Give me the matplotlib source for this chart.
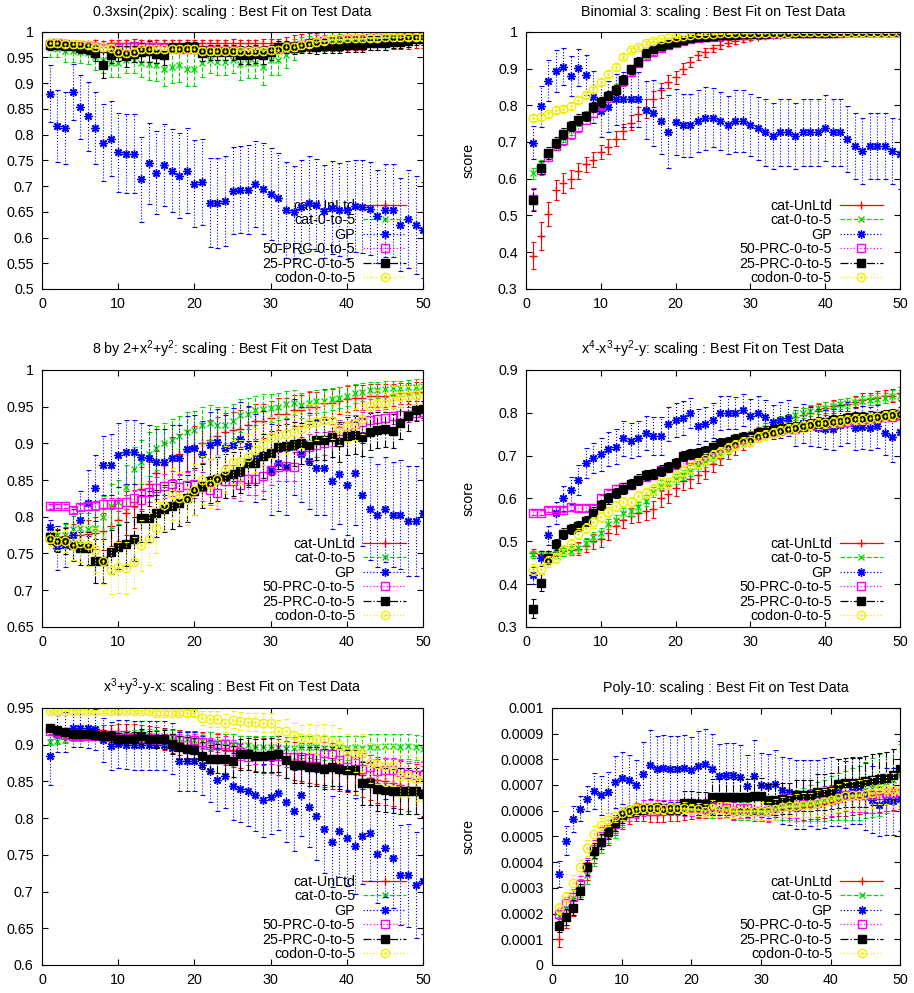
import numpy as np
import matplotlib
matplotlib.use("Agg")
import matplotlib.pyplot as plt
from matplotlib.lines import Line2D
from matplotlib.ticker import FuncFormatter

plt.rcParams['font.family'] = ['Liberation Sans', 'DejaVu Sans']
plt.rcParams['mathtext.default'] = 'regular'

x = np.arange(1, 51)

labels = ['cat-UnLtd', 'cat-0-to-5', 'GP', '50-PRC-0-to-5', '25-PRC-0-to-5', 'codon-0-to-5']

# ---- 0.3xsin(2pix)
p1_unltd = [0.978,0.979,0.978,0.977,0.977,0.976,0.978,0.977,0.978,0.978, 0.978,0.979,0.978,0.978,0.978,0.978,0.978,0.978,0.978,0.978,
            0.978,0.978,0.978,0.978,0.979,0.978,0.978,0.978,0.979,0.979, 0.978,0.979,0.978,0.979,0.980,0.980,0.981,0.981,0.981,0.982,
            0.982,0.982,0.983,0.983,0.983,0.984,0.984,0.984,0.985,0.985]
p1_unltd_err = [0.007,0.007,0.006,0.007,0.006,0.007,0.006,0.006,0.006,0.006, 0.006,0.006,0.006,0.006,0.006,0.006,0.006,0.006,0.006,0.006,
                0.006,0.006,0.006,0.006,0.006,0.006,0.006,0.006,0.006,0.006, 0.008,0.010,0.016,0.017,0.017,0.017,0.018,0.018,0.018,0.018,
                0.018,0.018,0.018,0.018,0.018,0.017,0.017,0.017,0.016,0.016]
p1_cat05 = [0.968,0.967,0.962,0.962,0.960,0.958,0.950,0.945,0.940,0.940, 0.945,0.945,0.940,0.937,0.935,0.928,0.932,0.935,0.927,0.928,
            0.940,0.945,0.942,0.942,0.945,0.937,0.940,0.940,0.932,0.945, 0.945,0.955,0.965,0.975,0.980,0.982,0.983,0.984,0.985,0.986,
            0.986,0.987,0.987,0.988,0.988,0.988,0.989,0.989,0.990,0.990]
p1_cat05_err = [0.018,0.017,0.020,0.020,0.020,0.020,0.025,0.025,0.028,0.028, 0.025,0.025,0.028,0.030,0.030,0.033,0.032,0.032,0.033,0.033,
                0.028,0.025,0.027,0.027,0.025,0.030,0.030,0.030,0.035,0.030, 0.030,0.025,0.020,0.015,0.012,0.011,0.010,0.010,0.010,0.010,
                0.009,0.009,0.009,0.008,0.008,0.008,0.008,0.008,0.007,0.007]
p1_gp = [0.880,0.817,0.813,0.883,0.853,0.836,0.812,0.784,0.792,0.766, 0.763,0.763,0.713,0.744,0.726,0.741,0.730,0.720,0.730,0.705,
         0.708,0.668,0.667,0.671,0.691,0.693,0.693,0.704,0.695,0.685, 0.676,0.654,0.649,0.660,0.668,0.663,0.651,0.658,0.654,0.653,
         0.661,0.660,0.656,0.641,0.653,0.653,0.625,0.636,0.625,0.615]
p1_gp_err = [0.055,0.070,0.070,0.055,0.062,0.067,0.070,0.075,0.073,0.077, 0.077,0.077,0.083,0.079,0.081,0.080,0.081,0.083,0.082,0.084,
             0.084,0.087,0.087,0.087,0.085,0.085,0.086,0.084,0.088,0.089, 0.088,0.093,0.090,0.090,0.090,0.090,0.090,0.090,0.090,0.095,
             0.090,0.090,0.090,0.090,0.090,0.090,0.090,0.095,0.095,0.093]
p1_prc50 = [0.977,0.978,0.976,0.975,0.974,0.973,0.971,0.969,0.970,0.970, 0.971,0.972,0.971,0.970,0.970,0.968,0.968,0.967,0.966,0.966,
            0.964,0.964,0.963,0.963,0.963,0.962,0.962,0.963,0.963,0.964, 0.966,0.970,0.972,0.975,0.978,0.980,0.982,0.983,0.984,0.985,
            0.986,0.986,0.987,0.987,0.988,0.988,0.989,0.989,0.990,0.990]
p1_prc50_err = [0.006,0.006,0.006,0.006,0.006,0.006,0.007,0.007,0.007,0.007, 0.007,0.007,0.007,0.007,0.007,0.007,0.007,0.007,0.007,0.007,
                0.007,0.007,0.007,0.007,0.007,0.007,0.007,0.007,0.007,0.007, 0.007,0.007,0.007,0.007,0.006,0.006,0.006,0.006,0.006,0.006,
                0.006,0.006,0.006,0.006,0.006,0.006,0.005,0.005,0.005,0.005]
p1_prc25 = [0.975,0.975,0.973,0.972,0.968,0.966,0.958,0.936,0.955,0.958, 0.952,0.957,0.960,0.962,0.957,0.955,0.968,0.968,0.970,0.970,
            0.958,0.960,0.960,0.960,0.960,0.955,0.955,0.957,0.955,0.960, 0.970,0.970,0.968,0.970,0.972,0.970,0.972,0.973,0.973,0.975,
            0.975,0.975,0.978,0.978,0.978,0.980,0.980,0.982,0.985,0.985]
p1_prc25_err = [0.010,0.008,0.008,0.008,0.010,0.010,0.015,0.025,0.015,0.015, 0.020,0.015,0.018,0.020,0.018,0.020,0.010,0.010,0.010,0.010,
                0.015,0.015,0.015,0.015,0.015,0.017,0.017,0.017,0.018,0.015, 0.012,0.012,0.012,0.012,0.013,0.014,0.014,0.014,0.014,0.014,
                0.014,0.014,0.013,0.013,0.013,0.012,0.012,0.012,0.010,0.010]
p1_codon = [0.978,0.978,0.977,0.976,0.976,0.975,0.970,0.970,0.968,0.960, 0.958,0.960,0.966,0.967,0.967,0.967,0.967,0.967,0.967,0.967,
            0.963,0.963,0.963,0.963,0.963,0.963,0.963,0.963,0.963,0.964, 0.965,0.970,0.970,0.975,0.977,0.980,0.983,0.985,0.986,0.987,
            0.987,0.988,0.988,0.988,0.989,0.989,0.989,0.990,0.990,0.990]
p1_codon_err = [0.007,0.007,0.007,0.007,0.007,0.007,0.008,0.008,0.008,0.008, 0.008,0.008,0.008,0.008,0.008,0.008,0.008,0.008,0.008,0.008,
                0.008,0.008,0.008,0.008,0.008,0.008,0.008,0.008,0.008,0.008, 0.008,0.008,0.008,0.008,0.007,0.007,0.007,0.007,0.007,0.007,
                0.007,0.007,0.006,0.006,0.006,0.006,0.006,0.006,0.006,0.006]

# ---- Binomial 3
p2_unltd = [0.391,0.445,0.505,0.569,0.589,0.600,0.621,0.639,0.652,0.673, 0.687,0.709,0.729,0.753,0.776,0.791,0.816,0.841,0.864,0.876,
            0.900,0.918,0.936,0.944,0.955,0.964,0.970,0.976,0.980,0.984, 0.986,0.988,0.990,0.992,0.993,0.994,0.995,0.995,0.996,0.996,
            0.997,0.997,0.998,0.998,0.998,0.998,0.999,0.999,0.999,0.999]
p2_unltd_err = [0.038,0.038,0.033,0.027,0.027,0.025,0.022,0.020,0.020,0.020, 0.020,0.020,0.020,0.020,0.020,0.025,0.022,0.020,0.018,0.018,
                0.015,0.013,0.012,0.012,0.010,0.010,0.008,0.008,0.007,0.006, 0.006,0.005,0.005,0.004,0.004,0.004,0.003,0.003,0.003,0.003,
                0.003,0.002,0.002,0.002,0.002,0.002,0.002,0.002,0.001,0.001]
p2_cat05 = [0.615,0.640,0.665,0.690,0.712,0.732,0.755,0.772,0.795,0.810, 0.826,0.845,0.868,0.893,0.918,0.936,0.950,0.960,0.968,0.974,
            0.978,0.982,0.985,0.987,0.989,0.990,0.992,0.993,0.994,0.995, 0.996,0.996,0.997,0.997,0.997,0.998,0.998,0.998,0.998,0.998,
            0.999,0.999,0.999,0.999,0.999,0.999,0.999,0.999,0.999,0.999]
p2_cat05_err = [0.015,0.012,0.012,0.012,0.012,0.012,0.012,0.012,0.012,0.012, 0.012,0.012,0.012,0.012,0.010,0.010,0.008,0.007,0.006,0.005,
                0.005,0.004,0.004,0.003,0.003,0.003,0.003,0.002,0.002,0.002, 0.002,0.002,0.002,0.002,0.001,0.001,0.001,0.001,0.001,0.001,
                0.001,0.001,0.001,0.001,0.001,0.001,0.001,0.001,0.001,0.001]
p2_gp = [0.698,0.797,0.867,0.893,0.905,0.879,0.902,0.882,0.823,0.784, 0.796,0.816,0.816,0.816,0.816,0.787,0.778,0.757,0.728,0.755,
         0.745,0.745,0.757,0.764,0.766,0.757,0.746,0.757,0.757,0.746, 0.737,0.726,0.716,0.726,0.726,0.716,0.726,0.726,0.726,0.737,
         0.726,0.726,0.707,0.689,0.676,0.689,0.689,0.689,0.676,0.667]
p2_gp_err = [0.045,0.055,0.055,0.058,0.050,0.055,0.050,0.055,0.070,0.070, 0.070,0.070,0.075,0.075,0.075,0.080,0.090,0.090,0.100,0.090,
             0.085,0.085,0.085,0.085,0.080,0.080,0.080,0.085,0.085,0.085, 0.085,0.090,0.090,0.090,0.090,0.090,0.090,0.090,0.090,0.090,
             0.090,0.090,0.090,0.090,0.090,0.090,0.090,0.090,0.090,0.095]
p2_prc50 = [0.545,0.625,0.660,0.690,0.705,0.722,0.740,0.760,0.780,0.800, 0.820,0.842,0.865,0.890,0.915,0.933,0.945,0.955,0.964,0.970,
            0.975,0.979,0.982,0.985,0.987,0.989,0.990,0.991,0.992,0.993, 0.994,0.995,0.995,0.996,0.996,0.997,0.997,0.997,0.998,0.998,
            0.998,0.998,0.999,0.999,0.999,0.999,0.999,0.999,0.999,0.999]
p2_prc50_err = [0.030,0.015,0.013,0.013,0.013,0.013,0.012,0.012,0.012,0.012, 0.012,0.012,0.012,0.010,0.010,0.010,0.008,0.007,0.006,0.005,
                0.005,0.004,0.004,0.004,0.003,0.003,0.003,0.003,0.002,0.002, 0.002,0.002,0.002,0.002,0.001,0.001,0.001,0.001,0.001,0.001,
                0.001,0.001,0.001,0.001,0.001,0.001,0.001,0.001,0.001,0.001]
p2_prc25 = [0.541,0.630,0.670,0.698,0.723,0.744,0.761,0.770,0.796,0.809, 0.826,0.841,0.870,0.898,0.918,0.941,0.952,0.961,0.968,0.973,
            0.977,0.982,0.985,0.986,0.988,0.990,0.991,0.992,0.993,0.994, 0.995,0.995,0.996,0.996,0.997,0.997,0.997,0.998,0.998,0.998,
            0.998,0.999,0.999,0.999,0.999,0.999,0.999,0.999,0.999,0.999]
p2_prc25_err = [0.030,0.018,0.016,0.015,0.015,0.014,0.014,0.013,0.013,0.013, 0.013,0.013,0.012,0.012,0.012,0.010,0.008,0.007,0.006,0.005,
                0.005,0.004,0.004,0.004,0.003,0.003,0.003,0.003,0.002,0.002, 0.002,0.002,0.002,0.002,0.001,0.001,0.001,0.001,0.001,0.001,
                0.001,0.001,0.001,0.001,0.001,0.001,0.001,0.001,0.001,0.001]
p2_codon = [0.765,0.768,0.775,0.787,0.791,0.797,0.814,0.827,0.843,0.864, 0.885,0.905,0.932,0.950,0.959,0.970,0.975,0.979,0.982,0.986,
            0.989,0.991,0.993,0.994,0.995,0.996,0.996,0.997,0.997,0.997, 0.998,0.998,0.998,0.998,0.998,0.999,0.999,0.999,0.999,0.999,
            0.999,0.999,0.999,0.999,0.999,0.999,0.999,0.999,0.999,0.999]
p2_codon_err = [0.008,0.008,0.008,0.008,0.008,0.008,0.008,0.008,0.008,0.008, 0.008,0.008,0.007,0.006,0.005,0.005,0.004,0.004,0.003,0.003,
                0.003,0.002,0.002,0.002,0.002,0.002,0.001,0.001,0.001,0.001, 0.001,0.001,0.001,0.001,0.001,0.001,0.001,0.001,0.001,0.001,
                0.001,0.001,0.001,0.001,0.001,0.001,0.001,0.001,0.001,0.001]

# ---- 8 by 2+x^2+y^2
p3_unltd = [0.772,0.773,0.774,0.775,0.775,0.776,0.778,0.780,0.787,0.795, 0.805,0.815,0.838,0.845,0.860,0.870,0.880,0.885,0.890,0.895,
            0.900,0.905,0.910,0.915,0.918,0.920,0.925,0.930,0.930,0.935, 0.940,0.940,0.945,0.945,0.950,0.950,0.955,0.955,0.958,0.960,
            0.962,0.962,0.965,0.965,0.965,0.966,0.968,0.968,0.970,0.970]
p3_unltd_err = [0.008,0.010,0.012,0.015,0.018,0.020,0.022,0.025,0.027,0.028, 0.030,0.030,0.030,0.030,0.030,0.030,0.028,0.028,0.028,0.028,
                0.027,0.027,0.026,0.026,0.025,0.025,0.024,0.024,0.023,0.023, 0.022,0.022,0.021,0.021,0.020,0.020,0.019,0.019,0.018,0.018,
                0.017,0.017,0.016,0.016,0.015,0.015,0.014,0.014,0.013,0.013]
p3_cat05 = [0.775,0.775,0.775,0.783,0.785,0.783,0.785,0.800,0.815,0.820, 0.840,0.865,0.875,0.885,0.893,0.900,0.905,0.910,0.915,0.918,
            0.925,0.928,0.925,0.925,0.930,0.938,0.940,0.945,0.947,0.948, 0.950,0.953,0.955,0.952,0.955,0.957,0.958,0.960,0.962,0.965,
            0.968,0.970,0.972,0.973,0.974,0.975,0.975,0.976,0.977,0.978]
p3_cat05_err = [0.010,0.012,0.015,0.018,0.020,0.022,0.025,0.028,0.030,0.030, 0.030,0.030,0.030,0.030,0.030,0.028,0.028,0.027,0.027,0.026,
                0.025,0.024,0.024,0.024,0.023,0.022,0.021,0.020,0.020,0.019, 0.018,0.018,0.017,0.017,0.016,0.016,0.015,0.015,0.014,0.014,
                0.013,0.012,0.012,0.011,0.011,0.010,0.010,0.010,0.010,0.010]
p3_gp = [0.786,0.758,0.761,0.775,0.795,0.819,0.839,0.870,0.871,0.884, 0.888,0.888,0.882,0.880,0.875,0.875,0.880,0.880,0.892,0.893,
         0.885,0.898,0.902,0.893,0.898,0.906,0.896,0.880,0.884,0.864, 0.873,0.868,0.895,0.885,0.876,0.867,0.867,0.848,0.858,0.843,
         0.859,0.830,0.811,0.802,0.810,0.803,0.803,0.794,0.794,0.805]
p3_gp_err = [0.010,0.030,0.030,0.035,0.040,0.045,0.045,0.040,0.042,0.043, 0.044,0.044,0.045,0.045,0.045,0.045,0.045,0.045,0.045,0.045,
             0.045,0.045,0.045,0.045,0.050,0.050,0.055,0.060,0.060,0.062, 0.065,0.065,0.065,0.065,0.065,0.065,0.065,0.065,0.068,0.068,
             0.070,0.070,0.070,0.070,0.072,0.072,0.074,0.075,0.075,0.075]
p3_prc50 = [0.814,0.815,0.815,0.809,0.813,0.814,0.815,0.818,0.818,0.817, 0.820,0.825,0.823,0.834,0.839,0.842,0.845,0.840,0.843,0.845,
            0.841,0.836,0.833,0.848,0.848,0.843,0.851,0.852,0.856,0.864, 0.868,0.869,0.868,0.890,0.895,0.898,0.900,0.911,0.917,0.924,
            0.926,0.929,0.931,0.933,0.935,0.937,0.939,0.939,0.941,0.942]
p3_prc50_err = [0.003,0.003,0.003,0.004,0.004,0.005,0.006,0.007,0.008,0.009, 0.010,0.012,0.013,0.014,0.015,0.016,0.017,0.018,0.018,0.019,
                0.020,0.020,0.022,0.022,0.022,0.022,0.022,0.022,0.021,0.021, 0.020,0.020,0.020,0.018,0.018,0.017,0.016,0.015,0.014,0.014,
                0.013,0.013,0.012,0.012,0.011,0.011,0.010,0.010,0.010,0.010]
p3_prc25 = [0.773,0.767,0.767,0.761,0.757,0.757,0.740,0.740,0.752,0.759, 0.763,0.770,0.798,0.798,0.805,0.811,0.815,0.819,0.825,0.835,
            0.842,0.849,0.851,0.856,0.858,0.862,0.873,0.873,0.883,0.887, 0.895,0.896,0.899,0.900,0.898,0.905,0.905,0.908,0.902,0.910,
            0.911,0.908,0.916,0.918,0.919,0.917,0.928,0.937,0.945,0.946]
p3_prc25_err = [0.010,0.015,0.018,0.020,0.022,0.022,0.030,0.030,0.030,0.030, 0.030,0.030,0.032,0.032,0.032,0.032,0.032,0.032,0.032,0.032,
                0.030,0.030,0.030,0.030,0.030,0.030,0.030,0.030,0.030,0.030, 0.030,0.030,0.030,0.028,0.028,0.028,0.028,0.027,0.027,0.026,
                0.026,0.025,0.025,0.025,0.024,0.023,0.022,0.020,0.015,0.012]
p3_codon = [0.770,0.767,0.767,0.761,0.764,0.761,0.755,0.740,0.727,0.731, 0.730,0.738,0.761,0.770,0.785,0.816,0.831,0.826,0.824,0.837,
            0.850,0.845,0.852,0.864,0.874,0.875,0.882,0.891,0.899,0.908, 0.911,0.912,0.916,0.920,0.928,0.929,0.932,0.930,0.920,0.924,
            0.926,0.933,0.951,0.954,0.954,0.963,0.964,0.965,0.966,0.967]
p3_codon_err = [0.010,0.012,0.015,0.020,0.025,0.028,0.030,0.032,0.032,0.035, 0.035,0.035,0.035,0.035,0.035,0.035,0.035,0.035,0.035,0.035,
                0.033,0.033,0.032,0.032,0.030,0.030,0.030,0.030,0.028,0.028, 0.027,0.027,0.026,0.026,0.025,0.025,0.024,0.024,0.023,0.022,
                0.022,0.020,0.018,0.018,0.016,0.015,0.014,0.013,0.012,0.012]

# ---- x^4-x^3+y^2-y
p4_unltd = [0.473,0.470,0.470,0.475,0.478,0.480,0.483,0.490,0.500,0.505, 0.520,0.535,0.550,0.560,0.565,0.570,0.575,0.600,0.610,0.625,
            0.640,0.645,0.655,0.665,0.680,0.695,0.710,0.720,0.730,0.740, 0.750,0.760,0.765,0.770,0.780,0.790,0.795,0.800,0.805,0.810,
            0.815,0.818,0.820,0.825,0.830,0.832,0.835,0.838,0.840,0.845]
p4_unltd_err = [0.008,0.008,0.008,0.010,0.012,0.013,0.015,0.016,0.017,0.018, 0.018,0.018,0.018,0.018,0.020,0.020,0.020,0.020,0.020,0.020,
                0.020,0.020,0.020,0.020,0.018,0.018,0.018,0.018,0.017,0.017, 0.017,0.017,0.016,0.016,0.016,0.016,0.015,0.015,0.015,0.015,
                0.015,0.015,0.015,0.015,0.015,0.015,0.015,0.015,0.015,0.015]
p4_cat05 = [0.470,0.470,0.470,0.472,0.475,0.478,0.485,0.495,0.510,0.520, 0.540,0.550,0.565,0.570,0.580,0.595,0.615,0.630,0.635,0.645,
            0.655,0.665,0.675,0.685,0.695,0.705,0.715,0.725,0.735,0.745, 0.755,0.765,0.772,0.780,0.785,0.795,0.800,0.805,0.810,0.812,
            0.815,0.820,0.822,0.825,0.828,0.830,0.833,0.835,0.840,0.840]
p4_cat05_err = [0.008,0.008,0.008,0.010,0.010,0.011,0.012,0.012,0.012,0.012, 0.012,0.012,0.012,0.012,0.012,0.012,0.012,0.012,0.012,0.012,
                0.012,0.012,0.012,0.012,0.012,0.012,0.012,0.012,0.012,0.012, 0.012,0.012,0.012,0.012,0.012,0.012,0.012,0.012,0.012,0.012,
                0.012,0.012,0.012,0.012,0.012,0.012,0.012,0.012,0.012,0.012]
p4_gp = [0.421,0.460,0.514,0.566,0.600,0.619,0.643,0.683,0.695,0.703, 0.715,0.721,0.740,0.735,0.740,0.753,0.746,0.746,0.773,0.783,
         0.787,0.799,0.768,0.773,0.782,0.799,0.800,0.799,0.806,0.793, 0.799,0.789,0.779,0.783,0.787,0.768,0.775,0.768,0.764,0.761,
         0.761,0.771,0.777,0.764,0.766,0.764,0.768,0.752,0.744,0.756]
p4_gp_err = [0.020,0.018,0.022,0.025,0.030,0.032,0.035,0.035,0.035,0.038, 0.040,0.040,0.040,0.040,0.040,0.040,0.045,0.045,0.040,0.040,
             0.040,0.035,0.040,0.040,0.040,0.040,0.038,0.038,0.038,0.040, 0.040,0.040,0.040,0.042,0.042,0.045,0.045,0.045,0.045,0.045,
             0.048,0.048,0.048,0.050,0.050,0.050,0.050,0.050,0.058,0.058]
p4_prc50 = [0.567,0.567,0.574,0.574,0.574,0.579,0.577,0.577,0.577,0.600, 0.612,0.623,0.627,0.631,0.643,0.651,0.654,0.666,0.672,0.678,
            0.683,0.690,0.693,0.701,0.711,0.717,0.725,0.732,0.738,0.743, 0.748,0.752,0.756,0.760,0.763,0.763,0.766,0.769,0.771,0.774,
            0.775,0.777,0.779,0.782,0.783,0.785,0.787,0.789,0.791,0.792]
p4_prc50_err = [0.005,0.005,0.006,0.006,0.006,0.006,0.007,0.007,0.007,0.008, 0.008,0.008,0.008,0.008,0.008,0.008,0.008,0.008,0.008,0.008,
                0.008,0.008,0.008,0.008,0.008,0.008,0.008,0.008,0.008,0.008, 0.008,0.008,0.008,0.008,0.008,0.008,0.008,0.008,0.008,0.008,
                0.008,0.008,0.008,0.008,0.008,0.008,0.008,0.008,0.008,0.008]
p4_prc25 = [0.343,0.403,0.462,0.493,0.518,0.528,0.535,0.548,0.567,0.584, 0.600,0.612,0.623,0.633,0.644,0.654,0.657,0.665,0.674,0.682,
            0.699,0.703,0.705,0.711,0.721,0.730,0.731,0.738,0.744,0.744, 0.752,0.756,0.760,0.761,0.764,0.766,0.769,0.774,0.777,0.779,
            0.782,0.783,0.787,0.789,0.789,0.791,0.792,0.794,0.796,0.797]
p4_prc25_err = [0.022,0.020,0.015,0.013,0.012,0.012,0.012,0.012,0.012,0.012, 0.012,0.012,0.012,0.012,0.012,0.012,0.012,0.012,0.012,0.012,
                0.012,0.012,0.012,0.012,0.012,0.012,0.012,0.012,0.012,0.012, 0.012,0.012,0.012,0.012,0.012,0.012,0.012,0.012,0.012,0.012,
                0.012,0.012,0.012,0.012,0.012,0.012,0.012,0.012,0.012,0.012]
p4_codon = [0.434,0.436,0.453,0.461,0.479,0.493,0.518,0.531,0.544,0.556, 0.569,0.583,0.592,0.592,0.606,0.612,0.622,0.635,0.635,0.652,
            0.664,0.672,0.682,0.693,0.701,0.709,0.717,0.725,0.732,0.735, 0.743,0.748,0.753,0.758,0.761,0.764,0.768,0.771,0.775,0.777,
            0.778,0.781,0.783,0.785,0.786,0.788,0.791,0.793,0.794,0.796]
p4_codon_err = [0.012,0.012,0.012,0.012,0.012,0.012,0.012,0.012,0.012,0.012, 0.012,0.012,0.012,0.012,0.012,0.012,0.012,0.012,0.012,0.012,
                0.012,0.012,0.012,0.012,0.012,0.012,0.012,0.012,0.012,0.012, 0.012,0.012,0.012,0.012,0.012,0.012,0.012,0.012,0.012,0.012,
                0.012,0.012,0.012,0.012,0.012,0.012,0.012,0.012,0.012,0.012]

# ---- x^3+y^3-y-x
p5_unltd = [0.922,0.920,0.918,0.917,0.916,0.915,0.915,0.920,0.919,0.918, 0.918,0.916,0.915,0.912,0.910,0.908,0.905,0.903,0.900,0.900,
            0.898,0.897,0.895,0.893,0.892,0.890,0.888,0.887,0.885,0.885, 0.883,0.880,0.878,0.876,0.875,0.873,0.870,0.868,0.866,0.865,
            0.862,0.858,0.855,0.852,0.850,0.848,0.845,0.842,0.840,0.837]
p5_unltd_err = [0.004,0.004,0.004,0.004,0.005,0.005,0.005,0.006,0.008,0.010, 0.010,0.012,0.012,0.013,0.014,0.015,0.016,0.017,0.018,0.018,
                0.019,0.020,0.020,0.021,0.022,0.022,0.023,0.023,0.024,0.024, 0.025,0.025,0.026,0.026,0.027,0.027,0.028,0.028,0.029,0.029,
                0.030,0.030,0.031,0.031,0.032,0.032,0.033,0.033,0.034,0.034]
p5_cat05 = [0.904,0.905,0.906,0.909,0.909,0.911,0.912,0.913,0.913,0.913, 0.913,0.913,0.913,0.913,0.912,0.912,0.911,0.909,0.907,0.906,
            0.905,0.905,0.904,0.903,0.901,0.899,0.899,0.897,0.897,0.897, 0.897,0.895,0.895,0.897,0.897,0.897,0.895,0.895,0.896,0.895,
            0.896,0.895,0.897,0.897,0.898,0.898,0.897,0.898,0.896,0.894]
p5_cat05_err = [0.004,0.004,0.004,0.004,0.004,0.004,0.005,0.005,0.005,0.006, 0.006,0.007,0.007,0.008,0.008,0.009,0.009,0.010,0.010,0.011,
                0.011,0.012,0.012,0.012,0.013,0.013,0.013,0.014,0.014,0.014, 0.015,0.015,0.015,0.015,0.015,0.016,0.016,0.016,0.016,0.016,
                0.016,0.017,0.017,0.017,0.017,0.017,0.017,0.017,0.017,0.017]
p5_gp = [0.885,0.915,0.917,0.923,0.923,0.923,0.921,0.906,0.898,0.901, 0.900,0.899,0.899,0.899,0.899,0.899,0.895,0.877,0.877,0.877,
         0.872,0.864,0.852,0.857,0.843,0.840,0.837,0.832,0.824,0.828, 0.834,0.822,0.810,0.831,0.815,0.803,0.785,0.768,0.782,0.773,
         0.762,0.775,0.779,0.751,0.759,0.746,0.723,0.722,0.709,0.714]
p5_gp_err = [0.040,0.025,0.027,0.027,0.027,0.028,0.028,0.030,0.033,0.033, 0.033,0.033,0.033,0.033,0.033,0.033,0.035,0.040,0.040,0.040,
             0.040,0.042,0.043,0.043,0.045,0.045,0.048,0.050,0.050,0.050, 0.050,0.055,0.055,0.055,0.055,0.060,0.060,0.062,0.062,0.065,
             0.065,0.065,0.065,0.067,0.067,0.068,0.068,0.070,0.072,0.072]
p5_prc50 = [0.918,0.916,0.913,0.912,0.912,0.912,0.911,0.911,0.910,0.910, 0.909,0.909,0.909,0.908,0.908,0.907,0.907,0.906,0.905,0.906,
            0.904,0.900,0.900,0.901,0.896,0.890,0.883,0.885,0.884,0.885, 0.885,0.883,0.883,0.883,0.882,0.882,0.888,0.887,0.879,0.880,
            0.878,0.867,0.870,0.864,0.865,0.865,0.862,0.860,0.858,0.858]
p5_prc50_err = [0.004,0.004,0.004,0.004,0.004,0.004,0.005,0.005,0.005,0.005, 0.006,0.006,0.006,0.006,0.007,0.007,0.007,0.008,0.008,0.008,
                0.009,0.009,0.010,0.010,0.010,0.011,0.011,0.012,0.012,0.012, 0.013,0.013,0.013,0.014,0.014,0.014,0.015,0.015,0.015,0.015,
                0.016,0.016,0.016,0.016,0.017,0.017,0.017,0.018,0.018,0.018]
p5_prc25 = [0.922,0.920,0.917,0.915,0.914,0.914,0.913,0.912,0.911,0.908, 0.908,0.907,0.911,0.908,0.907,0.907,0.901,0.896,0.894,0.892,
            0.885,0.881,0.881,0.880,0.877,0.887,0.887,0.885,0.885,0.886, 0.887,0.879,0.872,0.872,0.870,0.870,0.867,0.870,0.867,0.865,
            0.865,0.847,0.847,0.840,0.838,0.837,0.837,0.837,0.837,0.833]
p5_prc25_err = [0.004,0.004,0.004,0.004,0.005,0.005,0.005,0.006,0.007,0.008, 0.009,0.010,0.010,0.011,0.012,0.013,0.014,0.015,0.016,0.017,
                0.018,0.019,0.020,0.020,0.021,0.021,0.022,0.022,0.023,0.023, 0.024,0.024,0.025,0.025,0.026,0.026,0.027,0.027,0.028,0.028,
                0.028,0.029,0.029,0.030,0.030,0.030,0.031,0.031,0.031,0.032]
p5_codon = [0.945,0.945,0.945,0.945,0.945,0.945,0.945,0.945,0.945,0.945, 0.945,0.945,0.945,0.945,0.943,0.943,0.943,0.943,0.943,0.943,
            0.936,0.935,0.935,0.929,0.934,0.932,0.931,0.931,0.930,0.930, 0.919,0.919,0.913,0.909,0.909,0.907,0.907,0.905,0.899,0.890,
            0.888,0.888,0.875,0.873,0.871,0.871,0.857,0.857,0.853,0.853]
p5_codon_err = [0.002,0.002,0.002,0.002,0.002,0.002,0.002,0.002,0.002,0.002, 0.002,0.002,0.002,0.002,0.003,0.003,0.003,0.003,0.004,0.004,
                0.010,0.011,0.011,0.012,0.012,0.012,0.012,0.012,0.013,0.013, 0.015,0.016,0.017,0.018,0.019,0.020,0.021,0.022,0.023,0.024,
                0.025,0.026,0.027,0.027,0.028,0.028,0.029,0.029,0.030,0.030]

# ---- Poly-10 (values in units of 1e-4)
p6_unit = 1e-4
p6_unltd = [1.00,1.85,2.25,2.90,3.65,4.30,4.70,5.00,5.40,5.65, 5.80,5.90,5.88,5.85,5.85,5.87,5.88,5.90,5.95,5.98,
            6.00,6.00,6.00,6.02,6.02,6.03,6.03,6.05,6.05,6.05, 6.07,6.08,6.08,6.10,6.10,6.15,6.20,6.25,6.30,6.35,
            6.40,6.45,6.50,6.55,6.60,6.62,6.65,6.70,6.75,6.80]
p6_unltd_err = [0.30,0.40,0.35,0.35,0.35,0.35,0.35,0.35,0.35,0.35, 0.30,0.30,0.30,0.30,0.30,0.30,0.30,0.30,0.30,0.30,
                0.30,0.30,0.30,0.32,0.32,0.34,0.34,0.36,0.38,0.40, 0.42,0.44,0.46,0.48,0.50,0.52,0.54,0.56,0.58,0.60,
                0.62,0.64,0.66,0.68,0.70,0.70,0.72,0.72,0.74,0.75]
p6_cat05 = [1.90,2.20,2.60,3.00,3.50,4.20,4.70,5.10,5.30,5.70, 5.90,6.00,6.10,6.10,6.10,6.10,6.10,6.10,6.10,6.10,
            6.10,6.00,6.00,6.05,6.05,6.00,6.00,6.00,6.00,6.00, 6.05,6.10,6.15,6.20,6.20,6.25,6.30,6.35,6.40,6.50,
            6.55,6.60,6.65,6.70,6.80,6.90,7.00,7.10,7.20,7.40]
p6_cat05_err = [0.20,0.25,0.30,0.35,0.35,0.35,0.35,0.35,0.35,0.35, 0.30,0.25,0.20,0.20,0.20,0.20,0.20,0.20,0.20,0.20,
                0.25,0.25,0.30,0.30,0.30,0.35,0.35,0.35,0.40,0.40, 0.45,0.45,0.50,0.55,0.60,0.65,0.70,0.75,0.80,0.85,
                0.90,0.95,1.00,1.05,1.10,1.15,1.20,1.20,1.20,1.20]
p6_gp = [3.53,4.84,5.69,6.08,6.47,6.78,6.60,6.71,7.12,7.27, 7.18,6.99,7.44,7.79,7.62,7.66,7.62,7.62,7.66,7.57,
         7.73,7.82,7.64,7.34,7.38,7.38,7.30,6.95,7.34,6.99, 6.95,7.05,6.79,6.73,6.62,6.62,6.69,6.62,6.69,6.75,
         6.71,6.62,6.78,6.79,6.56,6.43,6.23,6.36,6.36,6.45]
p6_gp_err = [0.50,0.55,0.50,0.50,0.50,0.70,0.75,0.80,1.00,1.00, 1.00,1.00,1.25,1.35,1.30,1.30,1.30,1.30,1.30,1.30,
             1.35,1.35,1.35,1.25,1.25,1.25,1.25,1.20,1.40,1.25, 1.25,1.30,1.30,1.30,1.35,1.35,1.30,1.35,1.35,1.35,
             1.30,1.30,1.30,1.30,1.30,1.30,1.20,1.30,1.30,1.25]
p6_prc50 = [2.00,2.40,2.65,3.15,3.80,4.50,5.00,5.30,5.50,5.80, 5.90,6.00,6.10,6.12,6.12,6.12,6.12,6.12,6.10,6.10,
            6.10,6.10,6.20,6.20,6.10,6.00,6.10,6.10,6.00,6.00, 6.00,6.10,6.20,6.20,6.20,6.25,6.30,6.30,6.40,6.40,
            6.50,6.60,6.60,6.60,6.60,6.60,6.60,6.70,6.70,6.70]
p6_prc50_err = [0.20,0.25,0.30,0.30,0.35,0.35,0.35,0.35,0.35,0.35, 0.30,0.30,0.30,0.30,0.30,0.30,0.30,0.30,0.30,0.30,
                0.35,0.35,0.35,0.35,0.35,0.35,0.40,0.40,0.40,0.40, 0.45,0.45,0.45,0.50,0.50,0.50,0.55,0.55,0.55,0.60,
                0.60,0.60,0.65,0.65,0.65,0.70,0.70,0.70,0.70,0.70]
p6_prc25 = [1.50,1.86,2.23,2.86,3.80,4.45,4.80,5.19,5.52,5.84, 5.94,6.01,6.08,6.10,6.10,6.08,6.08,6.08,6.30,6.30,
            6.27,6.27,6.53,6.53,6.53,6.53,6.53,6.53,6.56,6.56, 6.43,6.43,6.47,6.47,6.60,6.60,6.60,6.73,6.73,6.75,
            7.05,7.08,7.08,7.08,7.14,7.21,7.25,7.27,7.40,7.62]
p6_prc25_err = [0.20,0.30,0.30,0.30,0.30,0.30,0.30,0.30,0.30,0.30, 0.20,0.20,0.20,0.20,0.20,0.20,0.20,0.20,0.45,0.45,
                0.45,0.45,0.70,0.70,0.70,0.70,0.70,0.70,0.70,0.70, 0.60,0.60,0.60,0.60,0.60,0.60,0.60,0.70,0.70,0.70,
                0.95,0.95,0.95,0.95,1.00,1.00,1.00,1.00,1.00,1.10]
p6_codon = [2.20,2.65,3.20,3.80,4.55,5.10,5.45,5.65,5.80,5.90, 6.00,6.05,6.10,6.10,6.12,6.08,6.10,6.10,6.12,6.05,
            6.05,6.00,6.10,6.05,6.02,6.00,5.98,5.98,5.98,6.00, 5.98,6.05,6.15,6.20,6.20,6.22,6.22,6.30,6.35,6.40,
            6.50,6.58,6.60,6.60,6.65,6.70,6.85,6.85,6.80,6.80]
p6_codon_err = [0.20,0.20,0.30,0.30,0.30,0.30,0.25,0.25,0.25,0.25, 0.20,0.20,0.20,0.20,0.20,0.20,0.20,0.20,0.20,0.20,
                0.25,0.25,0.30,0.30,0.30,0.30,0.30,0.30,0.30,0.35, 0.35,0.40,0.40,0.40,0.45,0.45,0.45,0.50,0.50,0.50,
                0.55,0.55,0.55,0.60,0.60,0.60,0.60,0.60,0.65,0.65]

# style per series
colors = ['#ff0000', '#00dd00', '#0000ff', '#ff00ff', '#000000', '#f0f000']
bar_styles = ['-', '--', ':', ':', '-.', ':']
markers = ['+', 'x', (8, 2, 0), 's', 's', 'o']
marker_faces = ['#ff0000', '#00dd00', '#0000ff', 'none', '#000000', 'none']
marker_sizes = [6, 5, 6, 5.5, 6, 6]

FS = 10.3
FIG_W, FIG_H = 914, 993


def yfmt(v, pos):
    return '%g' % round(v, 6)


def draw_panel(ax, series, errors, title, ylim, ystep, scale=1.0, ylabel=None):
    for i, (y, e) in enumerate(zip(series, errors)):
        y = np.array(y) * scale
        e = np.array(e) * scale
        eb = ax.errorbar(x, y, yerr=e, fmt='none', ecolor=colors[i], elinewidth=0.8,
                         capsize=1.8, capthick=0.8)
        eb[2][0].set_linestyle(bar_styles[i])
        ax.plot(x, y, linestyle='none', marker=markers[i], color=colors[i],
                mfc=marker_faces[i], mec=colors[i], ms=marker_sizes[i], mew=1.0)
        if i == 5:
            ax.plot(x, y, linestyle='none', marker='.', color=colors[i], ms=2)

    ax.set_xlim(0, 50)
    ax.set_ylim(*ylim)
    ax.set_xticks(range(0, 51, 10))
    ax.set_yticks(np.arange(ylim[0], ylim[1] + ystep / 2, ystep))
    ax.yaxis.set_major_formatter(FuncFormatter(yfmt))
    ax.tick_params(direction='in', top=True, right=True, length=4, labelsize=FS)
    ax.tick_params(axis='x', pad=6)
    ax.tick_params(axis='y', pad=6)
    ax.set_title(title, fontsize=FS, pad=11.5)
    if ylabel:
        ax.set_ylabel(ylabel, fontsize=FS)

    handles = []
    for i in range(6):
        h = Line2D([], [], color=colors[i], linestyle=bar_styles[i], lw=0.9,
                   marker=markers[i], mfc=marker_faces[i], mec=colors[i], ms=marker_sizes[i])
        if i == 5:
            h = (h, Line2D([], [], color=colors[i], linestyle='none', marker='.', ms=2))
        handles.append(h)
    pos = ax.get_position()
    wpx = pos.width * FIG_W
    hpx = pos.height * FIG_H
    leg = ax.legend(handles, labels, loc='lower right', frameon=False, markerfirst=False,
                    fontsize=FS, handlelength=3.0, labelspacing=0.03, handletextpad=0.56,
                    borderpad=0, borderaxespad=0,
                    bbox_to_anchor=(1 - 17 / wpx, 4 / hpx))
    for vp in leg._legend_handle_box.get_children():
        vp.align = 'right'
    # gnuplot draws the key first, data on top of it
    leg.set_zorder(1)


fig = plt.figure(figsize=(9.14, 9.93), dpi=100)

ax1 = fig.add_axes([0.046, 0.709, 0.417, 0.259])
ax2 = fig.add_axes([0.5755, 0.709, 0.409, 0.259])
ax3 = fig.add_axes([0.046, 0.3686, 0.417, 0.259])
ax4 = fig.add_axes([0.5755, 0.3686, 0.409, 0.259])
ax5 = fig.add_axes([0.046, 0.0282, 0.417, 0.259])
ax6 = fig.add_axes([0.604, 0.0282, 0.381, 0.259])

draw_panel(ax1, [p1_unltd, p1_cat05, p1_gp, p1_prc50, p1_prc25, p1_codon],
           [p1_unltd_err, p1_cat05_err, p1_gp_err, p1_prc50_err, p1_prc25_err, p1_codon_err],
           '0.3xsin(2pix): scaling : Best Fit on Test Data', (0.5, 1.0), 0.05)
draw_panel(ax2, [p2_unltd, p2_cat05, p2_gp, p2_prc50, p2_prc25, p2_codon],
           [p2_unltd_err, p2_cat05_err, p2_gp_err, p2_prc50_err, p2_prc25_err, p2_codon_err],
           'Binomial 3: scaling : Best Fit on Test Data', (0.3, 1.0), 0.1, ylabel='score')
draw_panel(ax3, [p3_unltd, p3_cat05, p3_gp, p3_prc50, p3_prc25, p3_codon],
           [p3_unltd_err, p3_cat05_err, p3_gp_err, p3_prc50_err, p3_prc25_err, p3_codon_err],
           '8 by 2+x$^2$+y$^2$: scaling : Best Fit on Test Data', (0.65, 1.0), 0.05)
draw_panel(ax4, [p4_unltd, p4_cat05, p4_gp, p4_prc50, p4_prc25, p4_codon],
           [p4_unltd_err, p4_cat05_err, p4_gp_err, p4_prc50_err, p4_prc25_err, p4_codon_err],
           'x$^4$-x$^3$+y$^2$-y: scaling : Best Fit on Test Data', (0.3, 0.9), 0.1, ylabel='score')
draw_panel(ax5, [p5_unltd, p5_cat05, p5_gp, p5_prc50, p5_prc25, p5_codon],
           [p5_unltd_err, p5_cat05_err, p5_gp_err, p5_prc50_err, p5_prc25_err, p5_codon_err],
           'x$^3$+y$^3$-y-x: scaling : Best Fit on Test Data', (0.6, 0.95), 0.05)
draw_panel(ax6, [p6_unltd, p6_cat05, p6_gp, p6_prc50, p6_prc25, p6_codon],
           [p6_unltd_err, p6_cat05_err, p6_gp_err, p6_prc50_err, p6_prc25_err, p6_codon_err],
           'Poly-10: scaling : Best Fit on Test Data', (0.0, 0.001), 0.0001, scale=p6_unit, ylabel='score')

ax2.yaxis.set_label_coords(-0.135, 0.5)
ax4.yaxis.set_label_coords(-0.135, 0.5)
ax6.yaxis.set_label_coords(-0.22, 0.5)

fig.savefig('out.png', dpi=100)
